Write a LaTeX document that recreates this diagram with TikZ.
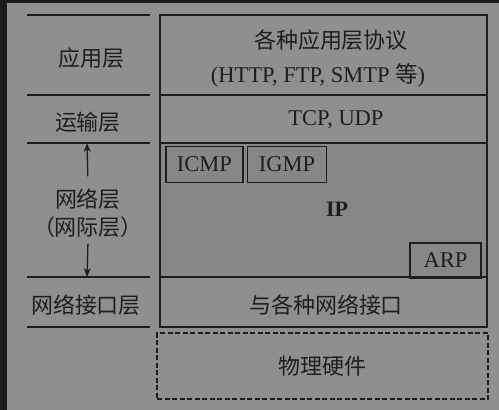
\documentclass[tikz,border=0pt]{standalone}
\usepackage{fontspec}
\setmainfont{Liberation Serif}
\newfontfamily\cjk{Noto Sans CJK SC}
\usetikzlibrary{arrows.meta}
\definecolor{bg}{HTML}{8F8F8F}
\definecolor{ipfill}{HTML}{878787}
\definecolor{ink}{HTML}{1E1E1E}
\definecolor{frame}{HTML}{1C1C1C}
\begin{document}
\begin{tikzpicture}[x=1pt, y=-1pt, line width=1.8pt, draw=ink, text=ink,
  zh/.style={font=\cjk\fontsize{22}{26}\selectfont},
  en/.style={font=\fontsize{22.5}{27}\selectfont},
  tag/.style={en, draw=ink, line width=1.5pt, inner sep=0pt, minimum height=36pt}]
  \useasboundingbox (0,0) rectangle (499,410);
  \fill[bg] (0,0) rectangle (499,410);
  \fill[frame] (0,0) rectangle (7,410);
  \fill[frame] (0,0) rectangle (499,3);
  % left column
  \foreach \y in {15,95,143,277,327} \draw (27,\y) -- (150,\y);
  \node[zh] (app) at (92,58) {应用层};
  \node[zh] (trans) at (88,122) {运输层};
  \node[zh] (net) at (88,199) {网络层};
  \node[zh] (netalt) at (88,227) {（网际层）};
  \node[zh] (link) at (86,305) {网络接口层};
  \coordinate (ttop) at (87,143);
  \coordinate (tbot) at (87,277);
  \draw[line width=1.3pt, -{Stealth[length=9pt, width=7pt]}, shorten <=8pt] (net.north) -- (ttop);
  \draw[line width=1.3pt, -{Stealth[length=9pt, width=7pt]}, shorten <=2pt] (netalt.south) -- (tbot);
  % protocol stack
  \fill[ipfill] (160,143) rectangle (487,277);
  \draw (160,15) rectangle (487,327);
  \foreach \y in {95,143,277} \draw (160,\y) -- (487,\y);
  \node[zh] (appproto) at (331,40) {各种应用层协议};
  \node[en] (appex) at (318,75) {(HTTP, FTP, SMTP {\cjk 等})};
  \node[en] (tcpudp) at (336,120) {TCP, UDP};
  \node[en, font=\bfseries\fontsize{22}{26}\selectfont] (ip) at (337,209) {IP};
  \node[tag, minimum width=77pt] (icmp) at (204.5,164.5) {ICMP};
  \node[tag, minimum width=79pt] (igmp) at (287,164.5) {IGMP};
  \node[tag, minimum width=71pt, minimum height=35pt] (arp) at (445.5,260.5) {ARP};
  \node[zh] (iface) at (326,305) {与各种网络接口};
  \node[zh, draw=ink, line width=2.2pt, dash pattern=on 5pt off 2.5pt,
    minimum width=331pt, minimum height=66pt] (hw) at (322.5,366) {物理硬件};
\end{tikzpicture}
\end{document}
